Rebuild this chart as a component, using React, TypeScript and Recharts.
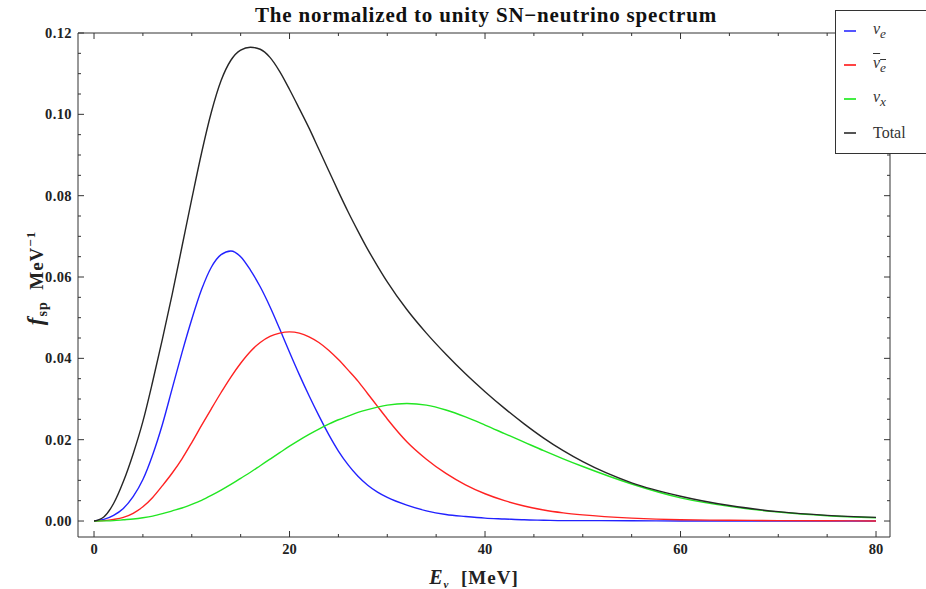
import { LineChart, Line, XAxis, YAxis } from "recharts"

// energy grid (MeV) and spectra
const energy = [
  0, 1, 2, 3, 4, 5, 6, 7, 8, 9, 10, 11, 12, 13, 14, 15, 16, 17, 18, 19, 20,
  21, 22, 23, 24, 25, 26, 27, 28, 29, 30, 32, 34, 36, 38, 40, 42, 44, 46, 48, 50,
  55, 60, 65, 70, 75, 80,
]

const nuE = [
  0, 0.0004, 0.0014, 0.0031, 0.006, 0.0102, 0.0163, 0.0238, 0.0326, 0.0414, 0.0496,
  0.0569, 0.0624, 0.0655, 0.0664, 0.065, 0.0617, 0.0576, 0.0527, 0.0472, 0.0415,
  0.036, 0.0308, 0.0259, 0.0213, 0.0172, 0.0138, 0.011, 0.0088, 0.0071, 0.0058,
  0.0039, 0.0025, 0.0016, 0.0011, 0.0007, 0.0005, 0.0003, 0.0002, 0.0001, 0.0001,
  0.00005, 0.00002, 0.00001, 0, 0, 0,
]

const antiNuE = [
  0, 0.0001, 0.0004, 0.0009, 0.0019, 0.0035, 0.0058, 0.0087, 0.0118, 0.0153, 0.0193,
  0.0235, 0.0276, 0.0316, 0.0354, 0.0388, 0.0417, 0.0439, 0.0454, 0.0462, 0.0465,
  0.0462, 0.0453, 0.0439, 0.042, 0.0397, 0.0371, 0.0344, 0.0313, 0.0282, 0.0251,
  0.0195, 0.0152, 0.0117, 0.0089, 0.0067, 0.005, 0.0037, 0.0027, 0.002, 0.0015,
  0.0007, 0.0003, 0.0002, 0.0001, 0.00005, 0.00002,
]

const nuX = [
  0, 0.00003, 0.0001, 0.0003, 0.0005, 0.0008, 0.0012, 0.0018, 0.0025, 0.0032, 0.0041,
  0.0051, 0.0063, 0.0076, 0.009, 0.0105, 0.012, 0.0136, 0.0152, 0.0168, 0.0184,
  0.0199, 0.0213, 0.0226, 0.0238, 0.0249, 0.0258, 0.0267, 0.0274, 0.028, 0.0285,
  0.0289, 0.0285, 0.0273, 0.0256, 0.0236, 0.0215, 0.0194, 0.0173, 0.0153, 0.0134,
  0.0091, 0.0057, 0.0036, 0.0022, 0.0013, 0.0008,
]

const total = [
  0, 0.001, 0.0043, 0.0097, 0.0165, 0.0245, 0.0343, 0.0448, 0.0558, 0.0675, 0.0792,
  0.0905, 0.1005, 0.1083, 0.1133, 0.1158, 0.1165, 0.116, 0.114, 0.1105, 0.1061,
  0.1014, 0.0966, 0.0914, 0.0862, 0.081, 0.076, 0.0713, 0.0668, 0.0627, 0.0588,
  0.052, 0.0462, 0.041, 0.0362, 0.0318, 0.0277, 0.0239, 0.0204, 0.0173, 0.0146,
  0.0094, 0.0061, 0.0038, 0.0023, 0.0014, 0.0009,
]

const xTicks = [0, 5, 10, 15, 20, 25, 30, 35, 40, 45, 50, 55, 60, 65, 70, 75, 80]
const xLabels = [0, 20, 40, 60, 80]
const yTicks = [
  0, 0.005, 0.01, 0.015, 0.02, 0.025, 0.03, 0.035, 0.04, 0.045, 0.05, 0.055, 0.06,
  0.065, 0.07, 0.075, 0.08, 0.085, 0.09, 0.095, 0.1, 0.105, 0.11, 0.115, 0.12,
]
const yLabels = [0, 0.02, 0.04, 0.06, 0.08, 0.1, 0.12]

const data = energy.map((e, i) => ({
  e,
  nuE: nuE[i],
  antiNuE: antiNuE[i],
  nuX: nuX[i],
  total: total[i],
}))

const FRAME = "#333"
const serif = "'Liberation Serif', 'DejaVu Serif', serif"

const isLabel = (list: number[], v: number) => list.some(l => Math.abs(l - v) < 1e-9)

function makeTick(side: "bottom" | "top" | "left" | "right") {
  return (props: any) => {
    const { x, y, payload } = props
    const v = payload.value as number
    const major = side === "bottom" || side === "top" ? isLabel(xLabels, v) : isLabel(yLabels, v)
    const len = major ? 6 : 3
    let line
    if (side === "bottom") line = <line x1={x} x2={x} y1={y} y2={y - len} stroke={FRAME} />
    else if (side === "top") line = <line x1={x} x2={x} y1={y} y2={y + len} stroke={FRAME} />
    else if (side === "left") line = <line x1={x} x2={x + len} y1={y} y2={y} stroke={FRAME} />
    else line = <line x1={x} x2={x - len} y1={y} y2={y} stroke={FRAME} />
    let label = null
    if (major && side === "bottom") {
      label = (
        <text x={x} y={y + 17} textAnchor="middle" fontFamily={serif} fontWeight="bold" fontSize={14.5} fill="#222">
          {v}
        </text>
      )
    }
    if (major && side === "left") {
      label = (
        <text x={x - 6} y={y + 5} textAnchor="end" fontFamily={serif} fontWeight="bold" fontSize={14.5} letterSpacing={0.4} fill="#222">
          {v.toFixed(2)}
        </text>
      )
    }
    return (
      <g>
        {line}
        {label}
      </g>
    )
  }
}

const legendItems = [
  { color: "#5555ff", label: <i>ν<sub>e</sub></i> },
  { color: "#ff4444", label: <i style={{ textDecoration: "overline" }}>ν<sub>e</sub></i> },
  { color: "#44ee44", label: <i>ν<sub>x</sub></i> },
  { color: "#555", label: <span>Total</span> },
]

export default function App() {
  return (
    <div style={{ position: "absolute", left: 0, top: 0, width: 926, height: 589, overflow: "hidden", background: "#fff", fontFamily: serif }}>
      <div style={{ position: "absolute", left: 486, top: 15, transform: "translate(-50%, -50%)", whiteSpace: "nowrap", fontWeight: "bold", fontSize: 21, letterSpacing: 0.8, color: "#111" }}>
        The normalized to unity SN−neutrino spectrum
      </div>
      <LineChart width={926} height={589} data={data} margin={{ top: 23, right: 26, left: 38, bottom: 22 }}>
        <XAxis
          xAxisId="b"
          type="number"
          dataKey="e"
          domain={[-1.64, 81.43]}
          ticks={xTicks}
          interval={0}
          allowDataOverflow
          height={30}
          tickSize={0}
          tickMargin={0}
          axisLine={{ stroke: FRAME }}
          tickLine={false}
          tick={makeTick("bottom")}
        />
        <XAxis
          xAxisId="t"
          orientation="top"
          type="number"
          dataKey="e"
          domain={[-1.64, 81.43]}
          ticks={xTicks}
          interval={0}
          allowDataOverflow
          height={10}
          tickSize={0}
          tickMargin={0}
          axisLine={{ stroke: FRAME }}
          tickLine={false}
          tick={makeTick("top")}
        />
        <YAxis
          yAxisId="l"
          type="number"
          domain={[-0.00393, 0.12]}
          ticks={yTicks}
          interval={0}
          allowDataOverflow
          width={40}
          tickSize={0}
          tickMargin={0}
          axisLine={{ stroke: FRAME }}
          tickLine={false}
          tick={makeTick("left")}
        />
        <YAxis
          yAxisId="r"
          orientation="right"
          type="number"
          domain={[-0.00393, 0.12]}
          ticks={yTicks}
          interval={0}
          allowDataOverflow
          width={10}
          tickSize={0}
          tickMargin={0}
          axisLine={{ stroke: FRAME }}
          tickLine={false}
          tick={makeTick("right")}
        />
        <Line xAxisId="b" yAxisId="l" type="monotone" dataKey="nuE" stroke="#2222ff" strokeWidth={1.4} dot={false} isAnimationActive={false} />
        <Line xAxisId="b" yAxisId="l" type="monotone" dataKey="antiNuE" stroke="#ff2222" strokeWidth={1.4} dot={false} isAnimationActive={false} />
        <Line xAxisId="b" yAxisId="l" type="monotone" dataKey="nuX" stroke="#22e622" strokeWidth={1.4} dot={false} isAnimationActive={false} />
        <Line xAxisId="b" yAxisId="l" type="monotone" dataKey="total" stroke="#262626" strokeWidth={1.4} dot={false} isAnimationActive={false} />
      </LineChart>
      <div style={{ position: "absolute", left: 37, top: 278, transform: "translate(-50%, -50%) rotate(-90deg)", whiteSpace: "nowrap", fontWeight: "bold", fontSize: 19, letterSpacing: 1, color: "#222" }}>
        <i style={{ fontSize: 23 }}>f</i>
        <sub style={{ fontSize: 14 }}>sp</sub>&nbsp; MeV<sup style={{ fontSize: 13 }}>−1</sup>
      </div>
      <div style={{ position: "absolute", left: 474, top: 578, transform: "translate(-50%, -50%)", whiteSpace: "nowrap", fontWeight: "bold", fontSize: 19, letterSpacing: 1, color: "#222" }}>
        <i style={{ fontSize: 20 }}>E</i>
        <sub style={{ fontSize: 11 }}>
          <i>ν</i>
        </sub>
        &nbsp; [MeV]
      </div>
      <div style={{ position: "absolute", left: 835, top: 10, width: 110, height: 142, border: `1px solid ${FRAME}`, background: "#fff" }}>
        {legendItems.map((it, i) => (
          <div key={i} style={{ position: "absolute", left: 0, top: 8 + i * 34, height: 24, display: "flex", alignItems: "center" }}>
            <div style={{ marginLeft: 8, width: 12, height: 2, background: it.color }} />
            <div style={{ marginLeft: 17, fontSize: 16, color: "#333" }}>{it.label}</div>
          </div>
        ))}
      </div>
    </div>
  )
}
